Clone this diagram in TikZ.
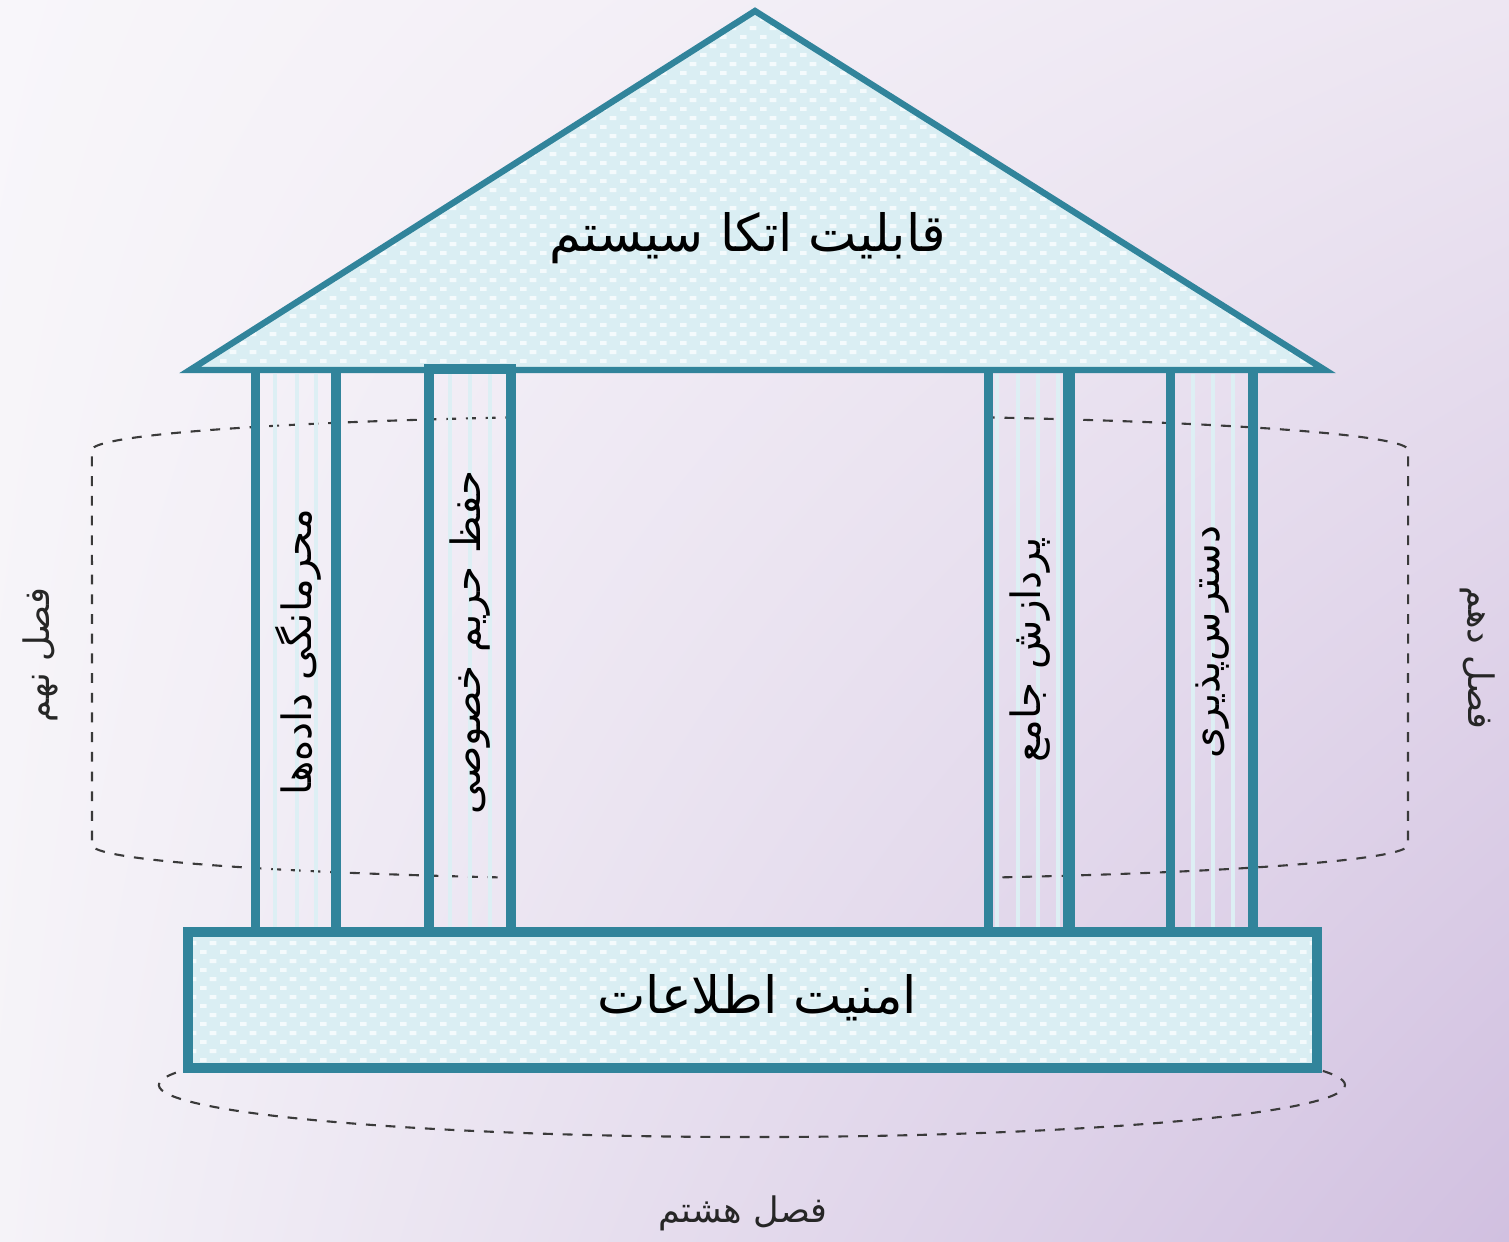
\documentclass[tikz,border=0pt]{standalone}
\usepackage{fontspec}
\usetikzlibrary{patterns,shadings}
\TeXXeTstate=1
\newfontfamily\arabicfont[Script=Arabic]{DejaVu Sans}
\definecolor{pillar}{HTML}{31849B}
\definecolor{paleblue}{HTML}{DAEEF3}
\definecolor{patwhite}{HTML}{F4FAFC}
\definecolor{stripe}{HTML}{DDEFF4}
\definecolor{bgA}{HTML}{F8F6FA}
\definecolor{bgB}{HTML}{EDE6F2}
\definecolor{bgC}{HTML}{F5F3F8}
\definecolor{bgD}{HTML}{D1C0E0}
\definecolor{dashgray}{HTML}{3A3A3A}
\pgfdeclarepatternformonly{tiledots}{\pgfqpoint{0pt}{0pt}}{\pgfqpoint{5.7pt}{5.1pt}}{\pgfqpoint{5.7pt}{5.1pt}}{%
  \pgfpathrectangle{\pgfqpoint{0pt}{0pt}}{\pgfqpoint{2pt}{1.1pt}}%
  \pgfpathrectangle{\pgfqpoint{2.85pt}{2.55pt}}{\pgfqpoint{2pt}{1.1pt}}%
  \pgfusepath{fill}}
\tikzset{
  panel/.style={fill=paleblue},
  panelpat/.style={pattern=tiledots, pattern color=patwhite},
  bar/.style={draw=pillar, line width=#1},
  bar/.default=2.8pt,
  stripeline/.style={draw=stripe, line width=1.1pt},
  cyl/.style={draw=dashgray, line width=0.6pt, dash pattern=on 2.8pt off 2.8pt},
  bigtxt/.style={font=\arabicfont\fontsize{14.6}{18}\selectfont, inner sep=0pt},
  coltxt/.style={font=\arabicfont\fontsize{11.5}{14}\selectfont, inner sep=0pt},
  sidetxt/.style={font=\arabicfont\fontsize{10}{12}\selectfont, inner sep=0pt, text=black!85}
}
\begin{document}
\begin{tikzpicture}[x=0.01cm,y=-0.01cm]
% background
\shade[upper left=bgA, upper right=bgB, lower left=bgC, lower right=bgD] (0,0) rectangle (1509,1241);
\useasboundingbox (0,0) rectangle (1509,1241);

% dashed cylinder (middle part hidden); y axis points down, so upper half = angles 180..360
\draw[cyl] (515.2,417.3) arc[start angle=249.1, end angle=180, x radius=658, y radius=35] -- (92,845)
  arc[start angle=180, end angle=110.9, x radius=658, y radius=35];
\draw[cyl] (984.8,417.3) arc[start angle=290.9, end angle=360, x radius=658, y radius=35] -- (1408,845)
  arc[start angle=0, end angle=69.1, x radius=658, y radius=35];
% dashed ellipse under base
\draw[cyl] (752,1085) ++(200:593 and 52) arc[start angle=200, end angle=-20, x radius=593, y radius=52];

% roof
\coordinate (apex) at (755,11);
\coordinate (roofL) at (190,370);
\coordinate (roofR) at (1325,370);
\fill[panel] (apex) -- (roofL) -- (roofR) -- cycle;
\fill[panelpat] (apex) -- (roofL) -- (roofR) -- cycle;
\draw[bar=1.8pt, line join=miter] (apex) -- (roofL) -- (roofR) -- cycle;
\node[bigtxt] (roof) at (748,238) {\beginR قابلیت اتکا سیستم\endR};

% column stripes
\foreach \x in {275,297,316, 450,470,490, 997,1018,1038,1058, 1193,1213,1233}
  \draw[stripeline] (\x,374) -- (\x,927);

% column 1
\draw[bar=2.6pt] (255.5,372) -- (255.5,927);
\draw[bar=3.1pt] (336,372) -- (336,927);
% column 2 (framed)
\draw[bar=2.8pt] (429,927) -- (429,369) -- (511,369) -- (511,927);
% column 3
\draw[bar=2.6pt] (988.5,372) -- (988.5,927);
\draw[bar=3.3pt] (1069,372) -- (1069,927);
% column 4
\draw[bar=2.6pt] (1170.5,372) -- (1170.5,927);
\draw[bar=2.8pt] (1253,372) -- (1253,927);

\node[coltxt, rotate=90] (c1) at (298,652) {\beginR محرمانگی داده‌ها\endR};
\node[coltxt, rotate=90] (c2) at (470,642) {\beginR حفظ حریم خصوصی\endR};
\node[coltxt, rotate=90] (c3) at (1030,650) {\beginR پردازش جامع\endR};
\node[coltxt, rotate=90] (c4) at (1213,642) {\beginR دسترس‌پذیری\endR};

% base
\fill[panel] (188,932) rectangle (1317,1068);
\fill[panelpat] (188,932) rectangle (1317,1068);
\draw[bar=2.8pt] (188,932) rectangle (1317,1068);
\node[bigtxt] (base) at (757,998) {\beginR امنیت اطلاعات\endR};

% chapter labels
\node[sidetxt, rotate=90] (ch9) at (40,655) {\beginR فصل نهم\endR};
\node[sidetxt, rotate=-90] (ch10) at (1478,658) {\beginR فصل دهم\endR};
\node[sidetxt] (ch8) at (743,1213) {\beginR فصل هشتم\endR};
\end{tikzpicture}
\end{document}
